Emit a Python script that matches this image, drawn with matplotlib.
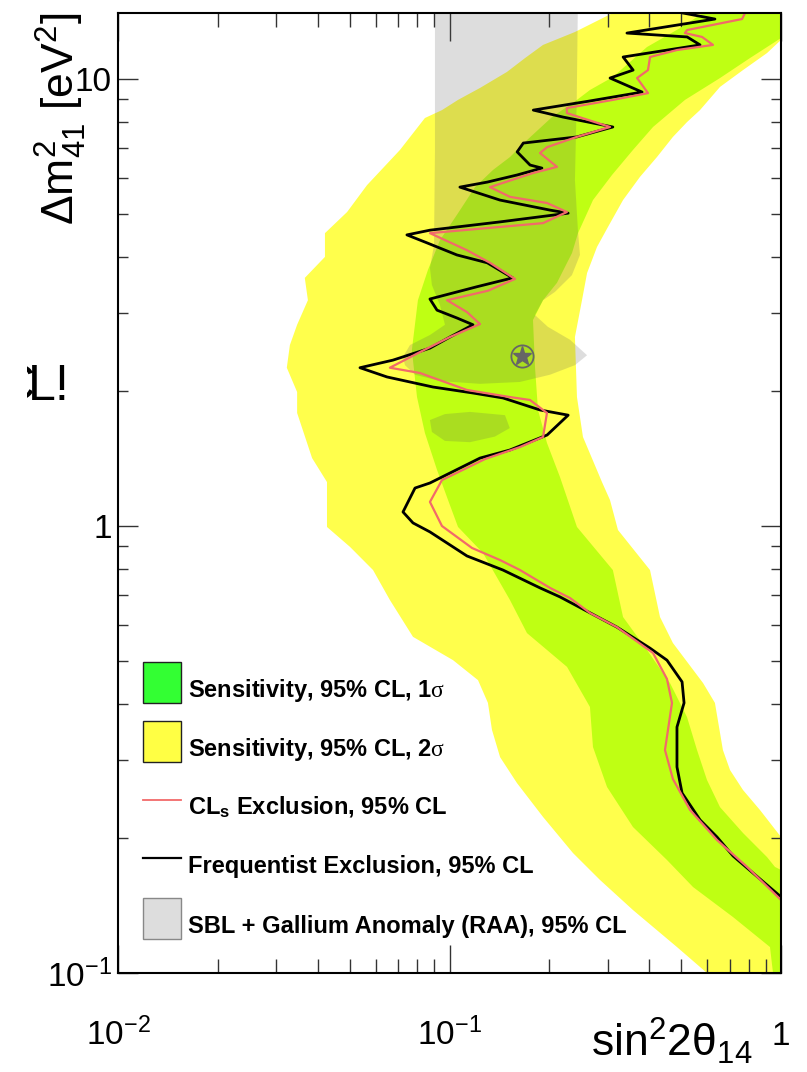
import matplotlib
matplotlib.use("Agg")
import matplotlib.pyplot as plt
from matplotlib.patches import Rectangle
from matplotlib.lines import Line2D
from matplotlib.ticker import LogLocator, NullFormatter, FixedLocator, FixedFormatter
from matplotlib.transforms import Bbox

plt.rcParams['font.family'] = ['Liberation Sans', 'DejaVu Sans']
plt.rcParams['mathtext.fontset'] = 'custom'
plt.rcParams['mathtext.rm'] = 'Liberation Sans'
plt.rcParams['mathtext.it'] = 'Liberation Sans:italic'
plt.rcParams['mathtext.bf'] = 'Liberation Sans:bold'
plt.rcParams['mathtext.sf'] = 'Liberation Serif'

# ---- 2 sigma sensitivity band (yellow) ----
yel_left_x = [0.311, 0.239, 0.1915, 0.169, 0.149, 0.1236, 0.1061, 0.0949, 0.0843, 0.0709,
              0.0564, 0.0491, 0.0421, 0.0421, 0.0366, 0.0374, 0.0347, 0.0330, 0.0323, 0.0347,
              0.0347, 0.0385, 0.0427, 0.0427, 0.0501, 0.0588, 0.0661, 0.0776, 0.1025, 0.1219,
              0.1306, 0.1343, 0.1421, 0.1598, 0.1915, 0.2358, 0.2844, 0.3577, 0.4855, 0.598]
yel_left_y = [14.05, 12.74, 11.92, 11.14, 10.37, 9.55, 8.98, 8.52, 8.18, 6.94,
              5.79, 5.04, 4.52, 4.00, 3.59, 3.20, 2.82, 2.54, 2.26, 1.994,
              1.79, 1.419, 1.254, 0.995, 0.898, 0.797, 0.683, 0.565, 0.501, 0.452,
              0.402, 0.350, 0.304, 0.266, 0.2234, 0.1855, 0.1615, 0.1383, 0.1143, 0.1]
yel_right_x = [1.0, 0.864, 0.768, 0.702, 0.668, 0.632, 0.582, 0.472, 0.4315, 0.4026,
               0.3223, 0.3049, 0.2884, 0.2527, 0.2424, 0.239, 0.251, 0.260, 0.2786, 0.3008,
               0.3338, 0.3755, 0.4225, 0.472, 0.5206, 0.5696, 0.6546, 0.768, 0.9074, 1.0]
yel_right_y = [0.2015, 0.2316, 0.2567, 0.2844, 0.3154, 0.402, 0.4453, 0.5474, 0.6258, 0.797,
               0.9796, 1.143, 1.254, 1.582, 1.943, 2.647, 3.20, 3.68, 4.21, 4.67,
               5.36, 6.04, 6.69, 7.42, 8.01, 8.52, 9.60, 10.47, 11.43, 12.23]

# ---- 1 sigma sensitivity band (green) ----
grn_left_x = [0.582, 0.4959, 0.3942, 0.311, 0.2653, 0.2424, 0.2038, 0.1713, 0.1522, 0.1353,
              0.1194, 0.1061, 0.0936, 0.0861, 0.0803, 0.0770, 0.0798, 0.0843, 0.0917, 0.0990,
              0.1061, 0.1262, 0.1522, 0.1713, 0.2262, 0.2653, 0.2709, 0.2987, 0.3577, 0.4529,
              0.5429, 0.7166, 0.9265, 0.946]
grn_left_y = [14.05, 13.0, 11.79, 10.10, 9.45, 8.98, 8.22, 7.30, 6.69, 6.26,
              5.73, 5.01, 4.36, 3.74, 3.20, 2.476, 1.943, 1.615, 1.335, 1.143,
              0.995, 0.870, 0.683, 0.576, 0.484, 0.3937, 0.3203, 0.2607, 0.2121, 0.179,
              0.1557, 0.1334, 0.1143, 0.1]
grn_right_x = [1.0, 0.959, 0.9074, 0.768, 0.6546, 0.598, 0.558, 0.5206, 0.4625, 0.3942,
               0.3338, 0.311, 0.2424, 0.2154, 0.1968, 0.1849, 0.1811, 0.1786, 0.1915, 0.211,
               0.2231, 0.2342, 0.2441, 0.26, 0.2709, 0.3092, 0.3577, 0.4111, 0.5134, 0.6546,
               0.8062, 1.0]
grn_right_y = [0.170, 0.1727, 0.1817, 0.2057, 0.235, 0.2703, 0.3154, 0.3737, 0.4453, 0.528,
               0.6258, 0.797, 0.995, 1.287, 1.534, 1.818, 2.268, 2.89, 3.20, 3.50,
               3.80, 4.08, 4.52, 5.01, 5.36, 6.10, 6.94, 7.81, 8.98, 10.05,
               11.14, 12.35]

# ---- SBL + Gallium anomaly allowed region ----
raa_x = [0.0904, 0.244, 0.242, 0.239, 0.244, 0.2475, 0.234, 0.208, 0.1915, 0.181,
         0.198, 0.231, 0.260, 0.239, 0.201, 0.163, 0.1236, 0.0936, 0.0787, 0.0734,
         0.0724, 0.0760, 0.0873, 0.0969, 0.0936, 0.0885, 0.0873, 0.0898, 0.0904]
raa_y = [15.0, 15.0, 8.98, 5.94, 4.59, 4.04, 3.64, 3.34, 3.20, 2.965,
         2.79, 2.61, 2.41, 2.29, 2.18, 2.10, 2.08, 2.11, 2.18, 2.29,
         2.39, 2.54, 2.675, 2.82, 3.12, 3.46, 3.78, 4.25, 6.94]
raa_island_x = [0.0873, 0.0969, 0.1153, 0.147, 0.152, 0.137, 0.1153, 0.0969, 0.0885]
raa_island_y = [1.726, 1.78, 1.80, 1.77, 1.656, 1.585, 1.54, 1.55, 1.623]
best_fit_x = [0.1655]
best_fit_y = [2.40]

# ---- exclusion contours ----
freq_x = [0.506, 0.632, 0.343, 0.521, 0.570, 0.334, 0.358, 0.305, 0.381, 0.265,
          0.179, 0.220, 0.311, 0.242, 0.167, 0.160, 0.175, 0.190, 0.160, 0.130,
          0.1075, 0.142, 0.201, 0.228, 0.142, 0.0873, 0.0744, 0.0855, 0.1053, 0.130,
          0.155, 0.121, 0.0873, 0.0917, 0.1053, 0.1177, 0.1003, 0.0873, 0.0675, 0.0537,
          0.0648, 0.0892, 0.1177, 0.145, 0.1875, 0.228, 0.197, 0.152, 0.1236, 0.0873,
          0.0787, 0.0724, 0.0776, 0.0873, 0.1129, 0.145, 0.1875, 0.2154, 0.320, 0.4026,
          0.4529, 0.503, 0.510, 0.4855, 0.4855, 0.503, 0.570, 0.641, 0.717, 0.823, 1.0]
freq_y = [14.05, 13.62, 12.67, 12.42, 11.92, 11.20, 10.47, 10.05, 9.35, 8.93,
          8.52, 8.22, 7.81, 7.42, 7.19, 6.87, 6.42, 6.32, 6.10, 5.88,
          5.73, 5.36, 5.09, 5.01, 4.79, 4.59, 4.48, 4.30, 4.04, 3.88,
          3.59, 3.43, 3.22, 3.04, 2.92, 2.82, 2.647, 2.50, 2.35, 2.26,
          2.155, 2.046, 1.984, 1.934, 1.818, 1.77, 1.598, 1.479, 1.419, 1.248,
          1.216, 1.075, 1.016, 0.970, 0.857, 0.797, 0.727, 0.694, 0.594, 0.533,
          0.501, 0.448, 0.402, 0.355, 0.289, 0.2527, 0.220, 0.2015, 0.1827, 0.1674, 0.148]
cls_x = [0.779, 0.763, 0.521, 0.513, 0.578, 0.6235, 0.4855, 0.4026, 0.397, 0.368,
         0.397, 0.311, 0.226, 0.226, 0.305, 0.242, 0.197, 0.1875, 0.211, 0.1786,
         0.1325, 0.1522, 0.1968, 0.226, 0.1915, 0.0873, 0.1129, 0.1325, 0.1576, 0.1306,
         0.0983, 0.1129, 0.1236, 0.1003, 0.0815, 0.0661, 0.0815, 0.1129, 0.1522, 0.1749,
         0.1968, 0.1915, 0.1632, 0.128, 0.0949, 0.0873, 0.0949, 0.1169, 0.1421, 0.1632,
         0.201, 0.231, 0.2653, 0.32, 0.4111, 0.4529, 0.469, 0.4467, 0.472, 0.5317,
         0.641, 0.790, 1.0]
cls_y = [14.05, 13.62, 12.87, 12.67, 12.42, 11.92, 11.61, 11.20, 10.47, 10.05,
         9.30, 8.98, 8.61, 8.39, 7.81, 7.42, 7.04, 6.83, 6.36, 6.16,
         5.73, 5.45, 5.28, 5.04, 4.76, 4.52, 4.14, 3.88, 3.57, 3.36,
         3.20, 3.01, 2.83, 2.647, 2.45, 2.26, 2.199, 2.015, 1.943, 1.914,
         1.79, 1.582, 1.502, 1.412, 1.267, 1.132, 1.0, 0.893, 0.839, 0.797,
         0.727, 0.690, 0.639, 0.594, 0.520, 0.4548, 0.402, 0.3154, 0.2716, 0.2316,
         0.1984, 0.1727, 0.1457]

x_ticks = [0.01, 0.1, 1.0]
x_tick_labels = [r'$10^{-2}$', r'$10^{-1}$', '1']
y_ticks = [0.1, 1.0, 10.0]
y_tick_labels = [r'$10^{-1}$', '1', '10']

legend_labels = [
    r'Sensitivity, 95% CL, 1$\mathsf{\sigma}$',
    r'Sensitivity, 95% CL, 2$\mathsf{\sigma}$',
    r'CL$_{\mathbf{s}}$ Exclusion, 95% CL',
    'Frequentist Exclusion, 95% CL',
    'SBL + Gallium Anomaly (RAA), 95% CL',
]

YELLOW = '#ffff4c'
GREEN = '#bfff13'
RED = '#f26a6a'

W, H = 807, 1072
fig = plt.figure(figsize=(W / 100, H / 100), dpi=100)
ax = fig.add_axes([118 / W, 1 - 973 / H, 663 / W, 960 / H])
ax.set_xscale('log')
ax.set_yscale('log')
ax.set_xlim(0.01, 1.0)
ax.set_ylim(0.1, 14.05)

XR = 1.1   # beyond the right edge, clipped by the axes
YT = 16.0  # beyond the top edge

# yellow band
band2_x = [yel_left_x[0]] + yel_left_x + [XR] + yel_right_x + [XR, XR]
band2_y = [YT] + yel_left_y + [0.09] + yel_right_y + [yel_right_y[-1], YT]
ax.fill(band2_x, band2_y, color=YELLOW, lw=0, zorder=1)

# green band
band1_x = [grn_left_x[0]] + grn_left_x + [XR] + grn_right_x + [XR, XR]
band1_y = [YT] + grn_left_y + [0.09] + grn_right_y + [grn_right_y[-1], YT]
ax.fill(band1_x, band1_y, color=GREEN, lw=0, zorder=2)

# allowed region
ax.fill(raa_x, raa_y, color='#595959', alpha=0.2, lw=0, zorder=3)
ax.fill(raa_island_x, raa_island_y, color='#595959', alpha=0.2, lw=0, zorder=3)
ax.plot(best_fit_x, best_fit_y, ls='none', marker='o', ms=16, mfc='none',
        mec='#666666', mew=1.3, zorder=6)
ax.plot(best_fit_x, best_fit_y, ls='none', marker='*', ms=14, color='#666666',
        mec='#666666', zorder=6)

# exclusion contours
ax.plot(freq_x, freq_y, color='black', lw=2.0, zorder=4)
ax.plot(cls_x, cls_y, color=RED, lw=1.6, zorder=5)

# axes style
for sp in ax.spines.values():
    sp.set_linewidth(1.5)
    sp.set_zorder(10)
ax.xaxis.set_major_locator(FixedLocator(x_ticks))
ax.xaxis.set_major_formatter(FixedFormatter(x_tick_labels))
ax.yaxis.set_major_locator(FixedLocator(y_ticks))
ax.yaxis.set_major_formatter(FixedFormatter(y_tick_labels))
ax.xaxis.set_minor_locator(LogLocator(base=10, subs=range(2, 10)))
ax.yaxis.set_minor_locator(LogLocator(base=10, subs=range(2, 10)))
ax.xaxis.set_minor_formatter(NullFormatter())
ax.yaxis.set_minor_formatter(NullFormatter())
ax.tick_params(which='both', direction='in', top=True, right=True,
               color='#333333', width=1.0, labelsize=24)
ax.tick_params(axis='x', which='major', length=20, pad=52)
ax.tick_params(axis='x', which='minor', length=10)
ax.tick_params(axis='y', which='major', length=14.4, pad=4.5)
ax.tick_params(axis='y', which='minor', length=7.2)
for lbl in ax.get_xticklabels():
    lbl.set_va('baseline')

# axis titles
fig.text(752 / W, 1 - 1057 / H, r'sin$^{2}$2θ$_{14}$', fontsize=32,
         ha='right', va='baseline')
fig.text(75 / W, 1 - 13 / H, r'Δm$^{2}_{41}$ [eV$^{2}$]', fontsize=32,
         rotation=90, rotation_mode='anchor', ha='right', va='baseline')

# stray annotation at the left margin, its first letter cut by a clip box
stray = fig.text(-2 / W, 1 - 400 / H, r'C$\!$L!', fontsize=36,
                 ha='left', va='baseline')
stray.set_clip_box(Bbox([[27, 0], [300, H]]))
stray.set_clip_on(True)

# legend
def fx(p):
    return p / W

def fy(p):
    return 1 - p / H

rows = [682.5, 741.5, 800.0, 858.0, 918.5]
box_l, box_r = 143, 181
swatches = [('#33ff33', '#222222'), ('#ffff44', '#222222'), None, None, ('#dddddd', '#888888')]
lines = [None, None, (RED, 1.3), ('black', 1.6), None]
for i, yc in enumerate(rows):
    if swatches[i] is not None:
        fc, ec = swatches[i]
        fig.add_artist(Rectangle((fx(box_l), fy(yc + 20.5)), fx(box_r - box_l), 41 / H,
                                 transform=fig.transFigure, facecolor=fc, edgecolor=ec, lw=1.0))
    if lines[i] is not None:
        c, lw = lines[i]
        fig.add_artist(Line2D([fx(box_l), fx(box_r)], [fy(yc), fy(yc)],
                              transform=fig.transFigure, color=c, lw=lw))
    fig.text(fx(188), fy(yc + 14.5), legend_labels[i], fontsize=17, fontweight='bold',
             ha='left', va='baseline')

fig.savefig('out.png', dpi=100)
